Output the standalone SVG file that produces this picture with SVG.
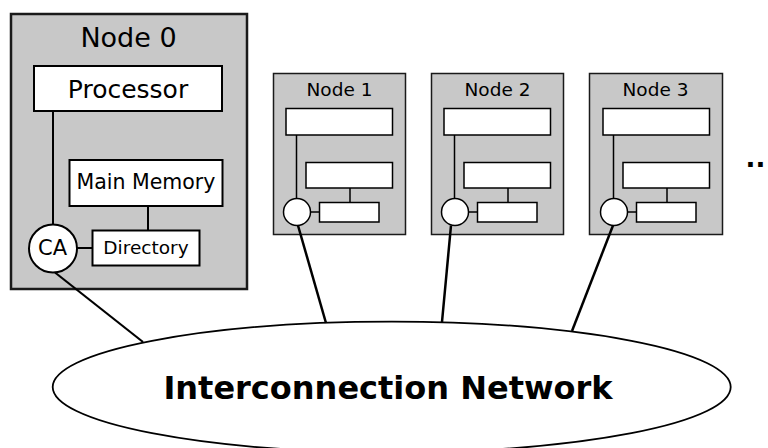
<svg xmlns="http://www.w3.org/2000/svg" width="768" height="448" viewBox="0 0 768 448">
<style>
.nodebox{fill:#c8c8c8;stroke:#1a1a1a}
.box{fill:#fff;stroke:#000}
.ln{stroke:#000;fill:none}
.t{font-family:"DejaVu Sans","Liberation Sans",sans-serif;fill:#000;text-anchor:middle}
</style>
<rect width="768" height="448" fill="#fff"/>
<g id="node0">
<rect class="nodebox" x="11" y="14" width="236" height="275" stroke-width="2.5"/>
<text class="t" x="128.5" y="47" font-size="27">Node 0</text>
<line class="ln" x1="53" y1="111" x2="53" y2="224" stroke-width="2"/>
<line class="ln" x1="148" y1="206" x2="148" y2="230" stroke-width="2"/>
<line class="ln" x1="76" y1="248" x2="92" y2="248" stroke-width="2"/>
<rect class="box" x="34" y="66" width="188" height="45" stroke-width="2"/>
<text class="t" x="128" y="98" font-size="25">Processor</text>
<rect class="box" x="69.5" y="160" width="153" height="46" stroke-width="2"/>
<text class="t" x="146" y="189" font-size="20.5">Main Memory</text>
<rect class="box" x="92.5" y="230.5" width="107" height="35" stroke-width="2"/>
<text class="t" x="146" y="254" font-size="18.5">Directory</text>
<circle cx="53" cy="248.5" r="24" fill="#fff" stroke="#000" stroke-width="2"/>
<text class="t" x="52.5" y="255" font-size="21">CA</text>
</g>
<g id="node1">
<rect class="nodebox" x="273.5" y="73.5" width="132" height="161" stroke-width="1.5"/>
<text class="t" x="339.5" y="96" font-size="18.5">Node 1</text>
<line class="ln" x1="296.5" y1="135" x2="296.5" y2="199" stroke-width="1.5"/>
<line class="ln" x1="350" y1="188" x2="350" y2="202" stroke-width="1.5"/>
<line class="ln" x1="310" y1="212" x2="319" y2="212" stroke-width="1.5"/>
<rect class="box" x="286" y="108.5" width="106.5" height="26.5" stroke-width="1.5"/>
<rect class="box" x="306" y="162.5" width="86.5" height="25.5" stroke-width="1.5"/>
<rect class="box" x="319.5" y="202.5" width="59.5" height="19.5" stroke-width="1.5"/>
<circle cx="297" cy="212" r="13.5" fill="#fff" stroke="#000" stroke-width="1.5"/>
</g>
<g id="node2">
<rect class="nodebox" x="431.5" y="73.5" width="132" height="161" stroke-width="1.5"/>
<text class="t" x="497.5" y="96" font-size="18.5">Node 2</text>
<line class="ln" x1="454.5" y1="135" x2="454.5" y2="199" stroke-width="1.5"/>
<line class="ln" x1="508" y1="188" x2="508" y2="202" stroke-width="1.5"/>
<line class="ln" x1="468" y1="212" x2="477" y2="212" stroke-width="1.5"/>
<rect class="box" x="444" y="108.5" width="106.5" height="26.5" stroke-width="1.5"/>
<rect class="box" x="464" y="162.5" width="86.5" height="25.5" stroke-width="1.5"/>
<rect class="box" x="477.5" y="202.5" width="59.5" height="19.5" stroke-width="1.5"/>
<circle cx="455" cy="212" r="13.5" fill="#fff" stroke="#000" stroke-width="1.5"/>
</g>
<g id="node3">
<rect class="nodebox" x="589.5" y="73.5" width="133" height="161" stroke-width="1.5"/>
<text class="t" x="655.5" y="96" font-size="18.5">Node 3</text>
<line class="ln" x1="613.5" y1="135" x2="613.5" y2="199" stroke-width="1.5"/>
<line class="ln" x1="667" y1="188" x2="667" y2="202" stroke-width="1.5"/>
<line class="ln" x1="627" y1="212" x2="636" y2="212" stroke-width="1.5"/>
<rect class="box" x="603" y="108.5" width="106.5" height="26.5" stroke-width="1.5"/>
<rect class="box" x="623" y="162.5" width="86.5" height="25.5" stroke-width="1.5"/>
<rect class="box" x="636.5" y="202.5" width="59.5" height="19.5" stroke-width="1.5"/>
<circle cx="614" cy="212" r="13.5" fill="#fff" stroke="#000" stroke-width="1.5"/>
</g>
<g id="ellipsis">
<text x="745.5" y="167" font-family="DejaVu Sans, sans-serif" font-weight="bold" font-size="26" fill="#000">..</text>
</g>
<g id="network">
<ellipse cx="391.7" cy="387" rx="339" ry="65.3" fill="#fff" stroke="#000" stroke-width="1.8"/>
<text class="t" x="388" y="399" font-size="32" font-weight="bold">Interconnection Network</text>
</g>
<g id="connectors">
<line class="ln" x1="55" y1="272.5" x2="143" y2="342" stroke-width="2.2"/>
<line class="ln" x1="298" y1="225.5" x2="326" y2="323" stroke-width="2.5"/>
<line class="ln" x1="451" y1="225.5" x2="442" y2="322" stroke-width="2.5"/>
<line class="ln" x1="613" y1="225.5" x2="572" y2="331" stroke-width="2.5"/>
</g>
</svg>
